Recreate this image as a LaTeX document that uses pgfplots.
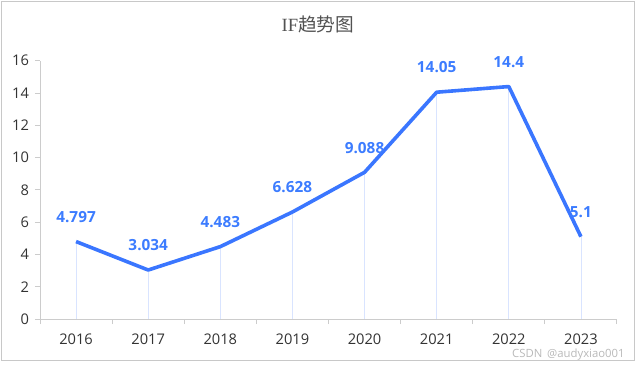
\documentclass[border=0pt]{standalone}
\usepackage{pgfplots}
\pgfplotsset{compat=1.18}
\usepackage{fontspec}
\setmainfont{Open Sans}
\newfontfamily\cjk{Noto Sans CJK SC}
\newfontfamily\serifIF{Liberation Serif}
\definecolor{lineblue}{RGB}{58,118,255}
\definecolor{labelblue}{RGB}{60,124,255}
\definecolor{dropblue}{RGB}{170,195,255}
\definecolor{axgray}{RGB}{204,204,204}
\definecolor{txtgray}{RGB}{51,51,51}
\definecolor{bordergray}{RGB}{200,200,200}
\pgfplotstableread{
x y lab
0 4.797 4.797
1 3.034 3.034
2 4.483 4.483
3 6.628 6.628
4 9.088 9.088
5 14.05 14.05
6 14.4 14.4
7 5.1 5.1
}\iftable
\begin{document}
\begin{tikzpicture}
\useasboundingbox (0,0) rectangle (477bp,274.5bp);
\draw[bordergray, line width=0.9bp] (1.1bp,3.9bp) rectangle (475.6bp,273.6bp);
\node[txtgray!85, font=\fontsize{14bp}{16bp}\selectfont] at (238.5bp,256bp) {\serifIF IF\cjk 趋势图};
\node[gray!55, anchor=east, font=\fontsize{8.5bp}{9bp}\selectfont] at (472bp,8.6bp) {CSDN\, @audyxiao001};
\begin{axis}[
  at={(30bp,35.25bp)}, anchor=south west,
  scale only axis, width=432.75bp, height=193.7bp,
  xmin=-0.5, xmax=7.5, ymin=0, ymax=16,
  axis x line*=bottom, axis y line*=left,
  axis line style={axgray, line width=0.75bp, -},
  xtick={0,...,7},
  xticklabels={2016,2017,2018,2019,2020,2021,2022,2023},
  minor xtick={-0.5,0.5,...,7.5},
  ytick={0,2,...,16},
  tick align=outside,
  major tick length=3.75bp,
  minor tick length=3.75bp,
  x tick style={draw=none},
  minor x tick style={draw=axgray, line width=0.75bp},
  y tick style={axgray, line width=0.75bp},
  tick label style={txtgray, font=\fontsize{11bp}{12bp}\selectfont},
  /pgf/number format/assume math mode=true,
  xticklabel style={yshift=-4bp},
  yticklabel style={xshift=-1bp},
  clip=false,
]
\addplot[dropblue, opacity=0.45, line width=0.6bp, ycomb, no marks] table[x=x,y=y] {\iftable};
\addplot[lineblue, line width=2.7bp, line join=round, no marks] table[x=x,y=y] {\iftable};
\addplot[draw=none, no marks,
  nodes near coords, point meta=explicit symbolic,
  every node near coord/.style={anchor=center, yshift=18.5bp, labelblue,
     font=\bfseries\fontsize{11.5bp}{13bp}\selectfont}]
  table[x=x,y=y,meta=lab] {\iftable};
\end{axis}
\end{tikzpicture}
\end{document}
